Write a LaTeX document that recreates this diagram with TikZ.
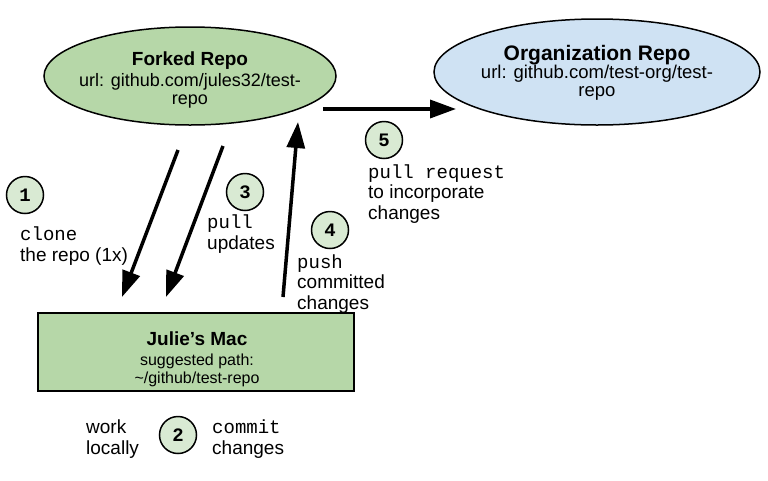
\documentclass[tikz,border=0pt]{standalone}
\usepackage{fontspec}
\setmainfont{Liberation Sans}
\setmonofont{Liberation Mono}
\usetikzlibrary{arrows.meta,shapes.geometric}
\definecolor{forkgreen}{HTML}{B6D7A8}
\definecolor{orgblue}{HTML}{CFE2F3}
\definecolor{stepgreen}{HTML}{D9EAD3}
\tikzset{
  repo/.style={ellipse,draw=black,line width=1.5pt,inner sep=0pt,align=center},
  mac/.style={rectangle,draw=black,line width=1.5pt,fill=forkgreen,inner sep=0pt,align=center},
  numcirc/.style={circle,draw=black,line width=1.5pt,fill=stepgreen,minimum size=37pt,inner sep=0pt,font=\fontsize{19}{19}\selectfont\ttfamily\bfseries},
  lbl/.style={align=left,inner sep=0pt,anchor=west,font=\fontsize{19}{20.5}\selectfont},
  bigarrow/.style={line width=3.5pt,-{Triangle[length=26pt,width=18pt]}},
  ttl/.style={font=\fontsize{19}{20}\selectfont\bfseries},
  sub/.style={font=\fontsize{16}{18}\selectfont}
}
\begin{document}
\begin{tikzpicture}[x=1pt,y=-1pt]
\useasboundingbox (0,0) rectangle (768,480);
% ellipses
\node[repo,fill=forkgreen,minimum width=292pt,minimum height=98pt] (fork) at (190,76) {};
\node[repo,fill=orgblue,minimum width=326pt,minimum height=106pt] (org) at (597,72) {};
\node[ttl] (forkt) at (190,61) {Forked Repo};
\node[sub,font=\fontsize{18}{18}\selectfont,align=center] (forku) at (190,91) {url: github.com/jules32/test-\\repo};
\node[ttl,font=\fontsize{21}{21}\selectfont\bfseries] (orgt) at (597,55) {Organization Repo};
\node[sub,font=\fontsize{18.5}{18}\selectfont,align=center] (orgu) at (597,83) {url: github.com/test-org/test-\\repo};
% mac
\node[mac,minimum width=316pt,minimum height=78pt] (mac) at (196,352) {};
\node[ttl] (mact) at (197,339) {Julie’s Mac};
\node[sub,align=center] (macu) at (197,370) {suggested path:\\\textasciitilde/github/test-repo};
% arrows
\coordinate (c1) at (178,150); \coordinate (c2) at (122,297);
\coordinate (p1) at (223,146); \coordinate (p2) at (166,297);
\coordinate (u1) at (283,297); \coordinate (u2) at (298,122);
\coordinate (r1) at (323,109); \coordinate (r2) at (456,109);
\draw[bigarrow] (c1) -- (c2);
\draw[bigarrow] (p1) -- (p2);
\draw[bigarrow] (u1) -- (u2);
\draw[bigarrow] (r1) -- (r2);
% circles
\node[numcirc] (n1) at (25,195) {1};
\node[numcirc] (n2) at (178,435) {2};
\node[numcirc] (n3) at (245,192) {3};
\node[numcirc] (n4) at (330,230) {4};
\node[numcirc] (n5) at (384,140) {5};
% labels
\node[lbl] (l1) at (20,246) {{\ttfamily clone}\\the repo (1x)};
\node[lbl] (l3) at (207,234) {{\ttfamily pull}\\updates};
\node[lbl] (l4) at (297,284) {{\ttfamily push}\\committed\\changes};
\node[lbl] (l5) at (368,194) {{\ttfamily pull request}\\to incorporate\\changes};
\node[lbl] (lw) at (86,439) {work\\locally};
\node[lbl] (lc) at (212,439) {{\ttfamily commit}\\changes};
\end{tikzpicture}
\end{document}
